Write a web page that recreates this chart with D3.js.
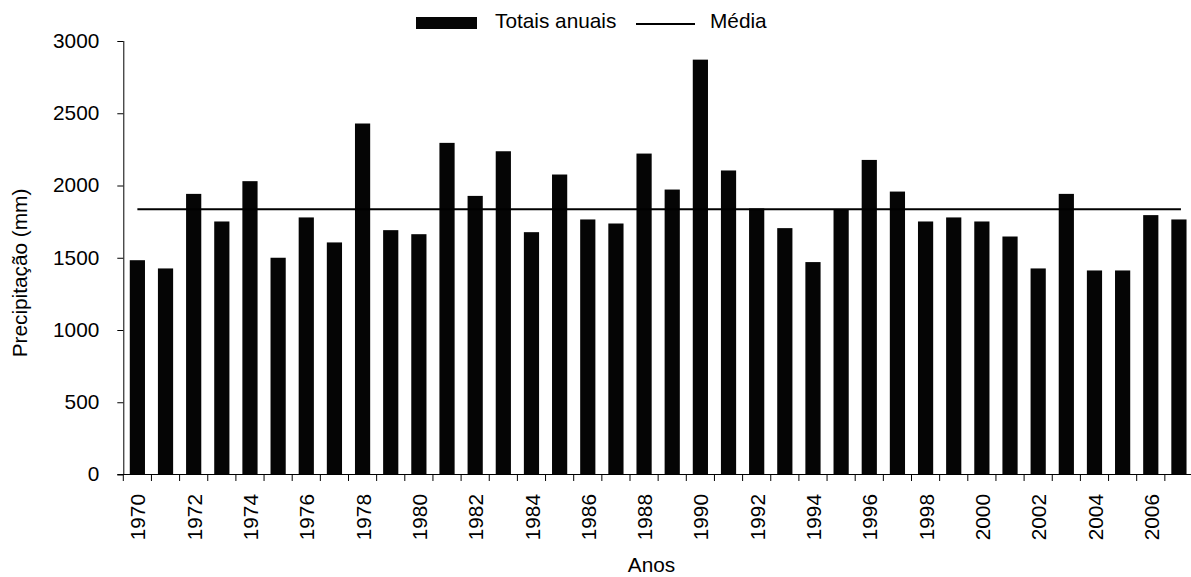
<!DOCTYPE html>
<html>
<head>
<meta charset="utf-8">
<script src="https://cdn.jsdelivr.net/npm/d3@7"></script>
<style>
  html, body { margin: 0; padding: 0; background: #fff; }
  svg { display: block; font-family: "Liberation Sans", Arial, sans-serif; }
</style>
</head>
<body>
<svg id="chart" width="1191" height="577"></svg>
<script>
// ---- data ----
const years = [1970,1971,1972,1973,1974,1975,1976,1977,1978,1979,
               1980,1981,1982,1983,1984,1985,1986,1987,1988,1989,
               1990,1991,1992,1993,1994,1995,1996,1997,1998,1999,
               2000,2001,2002,2003,2004,2005,2006,2007];
const totals = [1483,1426,1942,1751,2030,1500,1779,1606,2429,1691,
                1663,2295,1928,2237,1677,2076,1765,1737,2221,1972,
                2871,2104,1841,1705,1470,1836,2177,1958,1751,1779,
                1751,1647,1426,1942,1412,1412,1795,1765];
const mean = 1836;
const yTicks = [0,500,1000,1500,2000,2500,3000];
const xTickLabels = [1970,1972,1974,1976,1978,1980,1982,1984,1986,1988,
                     1990,1992,1994,1996,1998,2000,2002,2004,2006];
const legendLabels = ["Totais anuais", "Média"];
const yTitle = "Precipitação (mm)";
const xTitle = "Anos";

// ---- layout ----
const svg = d3.select("#chart");
const fontSize = "20.8px";
const plotLeft = 123.3, step = 28.15;
const plotTop = 41, plotBottom = 474.5;

const x = d3.scaleBand()
  .domain(years)
  .range([plotLeft, plotLeft + step * years.length])
  .paddingInner(0.46)
  .paddingOuter(0.23);

const y = d3.scaleLinear().domain([0, 3000]).range([plotBottom, plotTop]);

// bars
svg.append("g").selectAll("rect")
  .data(years)
  .join("rect")
  .attr("x", (d) => x(d))
  .attr("width", x.bandwidth())
  .attr("y", (d, i) => y(totals[i]))
  .attr("height", (d, i) => y(0) - y(totals[i]))
  .attr("fill", "#050505");

// mean line
svg.append("line")
  .attr("x1", x(years[0]) + x.bandwidth() / 2)
  .attr("x2", x(years[years.length - 1]) + x.bandwidth() / 2 + 2)
  .attr("y1", y(mean)).attr("y2", y(mean))
  .attr("stroke", "#000").attr("stroke-width", 2);

// y axis
const yAxis = svg.append("g")
  .attr("transform", `translate(${plotLeft},0)`)
  .call(d3.axisLeft(y).tickValues(yTicks).tickFormat(d3.format("d"))
        .tickSize(6).tickSizeOuter(0).tickPadding(18));
yAxis.attr("font-family", null).attr("font-size", null);
yAxis.selectAll("text").style("font-size", fontSize).attr("fill", "#000").attr("dy", "0.3em");
yAxis.selectAll("line, path").attr("stroke", "#000");
yAxis.select(".domain").attr("d", `M0.5,${plotBottom}V${plotTop}`);

// x axis line
svg.append("line")
  .attr("x1", plotLeft - 6).attr("x2", 1191)
  .attr("y1", plotBottom).attr("y2", plotBottom)
  .attr("stroke", "#000").attr("stroke-width", 1);

// x ticks at band boundaries
const gap = (x.step() - x.bandwidth()) / 2;
const boundaries = years.map((d) => x(d) - gap);
svg.append("g").selectAll("line")
  .data(boundaries)
  .join("line")
  .attr("x1", (d) => d).attr("x2", (d) => d)
  .attr("y1", plotBottom).attr("y2", plotBottom + 6.5)
  .attr("stroke", "#000");

// x tick labels
svg.append("g").selectAll("text")
  .data(xTickLabels)
  .join("text")
  .attr("transform", (d) => `translate(${x(d) + x.bandwidth() / 2 + 0.6},494) rotate(-90)`)
  .attr("text-anchor", "end")
  .attr("dy", "0.36em")
  .style("font-size", fontSize)
  .attr("fill", "#000")
  .text((d) => d);

// axis titles
svg.append("text")
  .attr("transform", "translate(27,273) rotate(-90)")
  .attr("text-anchor", "middle")
  .style("font-size", fontSize)
  .text(yTitle);

svg.append("text")
  .attr("x", 651.5).attr("y", 572)
  .attr("text-anchor", "middle")
  .style("font-size", fontSize)
  .text(xTitle);

// legend
const lg = svg.append("g");
lg.append("rect").attr("x", 416).attr("y", 17).attr("width", 61).attr("height", 12).attr("fill", "#050505");
lg.append("text").attr("x", 495).attr("y", 27.5).style("font-size", fontSize).text(legendLabels[0]);
lg.append("line").attr("x1", 636).attr("x2", 695).attr("y1", 24).attr("y2", 24)
  .attr("stroke", "#000").attr("stroke-width", 2);
lg.append("text").attr("x", 710).attr("y", 27.5).style("font-size", fontSize).text(legendLabels[1]);
</script>
</body>
</html>
